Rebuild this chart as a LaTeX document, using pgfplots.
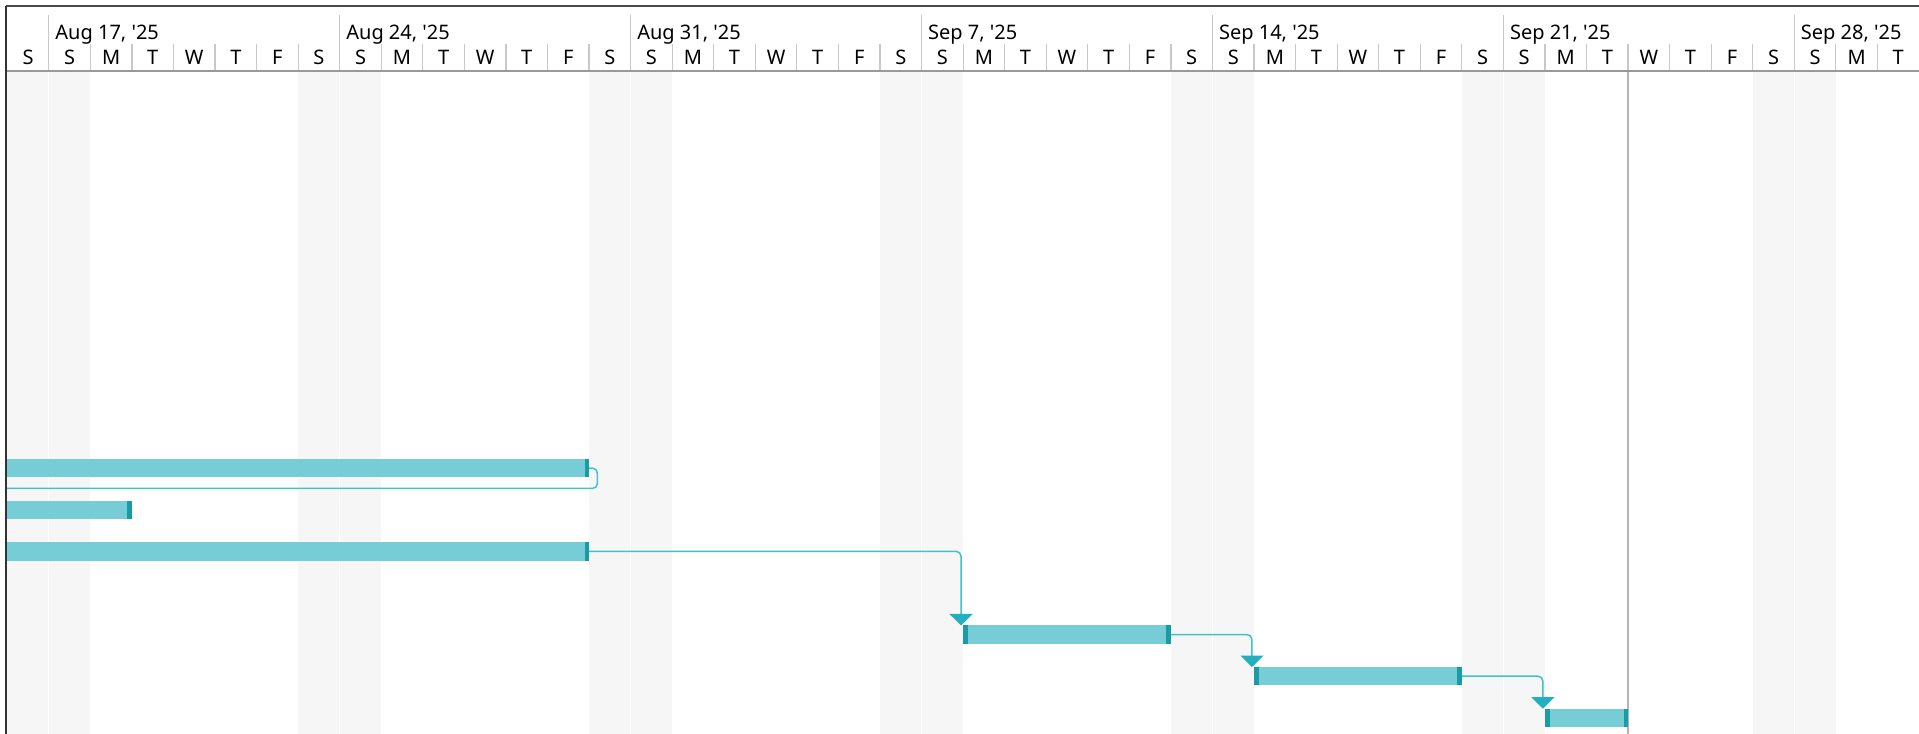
\documentclass[border=0pt]{standalone}
\usepackage{fontspec}
\setmainfont{Noto Sans}
\usepackage{pgfplots}
\pgfplotsset{compat=1.18}
\definecolor{barfill}{HTML}{76CDD6}
\definecolor{barmark}{HTML}{1A9CA6}
\definecolor{arrowc}{HTML}{22B0BE}
\definecolor{linkc}{HTML}{45BFCA}
\definecolor{wkend}{HTML}{F6F6F6}
\definecolor{sepc}{HTML}{C8C8C8}
\definecolor{todayc}{HTML}{B4B4B4}
\begin{document}
\begin{tikzpicture}
\path[use as bounding box] (0pt,0pt) rectangle (959.5pt,367pt);
% ---------------- header ----------------
\begin{axis}[name=hdr, at={(3pt,331.5pt)}, anchor=south west, scale only axis,
  width=956.5pt, height=32.5pt, xmin=-1.03, xmax=45, ymin=6, ymax=71,
  y dir=reverse, hide axis, clip=false]
\pgfplotsinvokeforeach{1,...,44}{\addplot[sepc, line width=0.6pt] coordinates {(#1,44) (#1,71)};}
\pgfplotsinvokeforeach{0,7,...,42}{\addplot[sepc, line width=0.6pt] coordinates {(#1,15) (#1,71)};}
\addplot[draw=none, mark=none, nodes near coords, point meta=explicit symbolic,
  every node near coord/.style={anchor=center, inner sep=0pt, font=\fontsize{10}{12}\selectfont, text=black}]
  table[meta=l, row sep=\\] {
x y l\\
-0.5 57 S\\
0.5 57 S\\ 1.5 57 M\\ 2.5 57 T\\ 3.5 57 W\\ 4.5 57 T\\ 5.5 57 F\\ 6.5 57 S\\
7.5 57 S\\ 8.5 57 M\\ 9.5 57 T\\ 10.5 57 W\\ 11.5 57 T\\ 12.5 57 F\\ 13.5 57 S\\
14.5 57 S\\ 15.5 57 M\\ 16.5 57 T\\ 17.5 57 W\\ 18.5 57 T\\ 19.5 57 F\\ 20.5 57 S\\
21.5 57 S\\ 22.5 57 M\\ 23.5 57 T\\ 24.5 57 W\\ 25.5 57 T\\ 26.5 57 F\\ 27.5 57 S\\
28.5 57 S\\ 29.5 57 M\\ 30.5 57 T\\ 31.5 57 W\\ 32.5 57 T\\ 33.5 57 F\\ 34.5 57 S\\
35.5 57 S\\ 36.5 57 M\\ 37.5 57 T\\ 38.5 57 W\\ 39.5 57 T\\ 40.5 57 F\\ 41.5 57 S\\
42.5 57 S\\ 43.5 57 M\\ 44.5 57 T\\
};
\begin{scope}[every node/.style={anchor=base west, inner sep=0pt, font=\fontsize{10}{12}\selectfont}]
\node at (axis cs:0.15,39.5) {Aug 17, \textquotesingle 25};
\node at (axis cs:7.15,39.5) {Aug 24, \textquotesingle 25};
\node at (axis cs:14.15,39.5) {Aug 31, \textquotesingle 25};
\node at (axis cs:21.15,39.5) {Sep 7, \textquotesingle 25};
\node at (axis cs:28.15,39.5) {Sep 14, \textquotesingle 25};
\node at (axis cs:35.15,39.5) {Sep 21, \textquotesingle 25};
\node at (axis cs:42.15,39.5) {Sep 28, \textquotesingle 25};
\end{scope}
\end{axis}
% ---------------- main chart ----------------
\begin{axis}[name=main, at={(3pt,0pt)}, anchor=south west, scale only axis,
  width=956.5pt, height=331.5pt, xmin=-1.03, xmax=45, ymin=-0.543, ymax=15.39,
  y dir=reverse, hide axis]
% weekend shading (Sat, Sun)
\pgfplotsinvokeforeach{0,7,...,42}{
  \addplot[fill=wkend, draw=none] coordinates {(#1-1,-1) (#1-0.012,-1) (#1-0.012,16) (#1-1,16)} --cycle;
  \addplot[fill=wkend, draw=none] coordinates {(#1+0.012,-1) (#1+1,-1) (#1+1,16) (#1+0.012,16)} --cycle;
}
% today line
\addplot[todayc, line width=1pt] coordinates {(38,-1) (38,16)};
% dependency links
\addplot[linkc, line width=0.75pt, rounded corners=2.5pt] coordinates {(13,9) (13.2,9) (13.2,9.49) (-2,9.49)};
\addplot[linkc, line width=0.75pt, rounded corners=2.5pt] coordinates {(13,11) (21.95,11) (21.95,12.52)};
\addplot[linkc, line width=0.75pt, rounded corners=2.5pt] coordinates {(27,13) (28.95,13) (28.95,13.52)};
\addplot[linkc, line width=0.75pt, rounded corners=2.5pt] coordinates {(34,14) (35.95,14) (35.95,14.52)};
% arrow heads
\addplot[fill=arrowc, draw=none] coordinates {(21.67,12.505) (22.23,12.505) (21.95,12.78)} --cycle;
\addplot[fill=arrowc, draw=none] coordinates {(28.67,13.505) (29.23,13.505) (28.95,13.78)} --cycle;
\addplot[fill=arrowc, draw=none] coordinates {(35.67,14.505) (36.23,14.505) (35.95,14.78)} --cycle;
% task bars (start, end, row)
\addplot[barfill, line width=9.2pt] coordinates {(-2,9) (13,9)};
\addplot[barfill, line width=9.2pt] coordinates {(-2,10) (2,10)};
\addplot[barfill, line width=9.2pt] coordinates {(-2,11) (13,11)};
\addplot[barfill, line width=9.2pt] coordinates {(22,13) (27,13)};
\addplot[barfill, line width=9.2pt] coordinates {(29,14) (34,14)};
\addplot[barfill, line width=9.2pt] coordinates {(36,15) (38,15)};
% bar end markers
\addplot[barmark, line width=9.2pt] coordinates {(12.89,9) (13,9)};
\addplot[barmark, line width=9.2pt] coordinates {(1.89,10) (2,10)};
\addplot[barmark, line width=9.2pt] coordinates {(12.89,11) (13,11)};
\addplot[barmark, line width=9.2pt] coordinates {(22,13) (22.11,13)};
\addplot[barmark, line width=9.2pt] coordinates {(26.89,13) (27,13)};
\addplot[barmark, line width=9.2pt] coordinates {(29,14) (29.11,14)};
\addplot[barmark, line width=9.2pt] coordinates {(33.89,14) (34,14)};
\addplot[barmark, line width=9.2pt] coordinates {(36,15) (36.11,15)};
\addplot[barmark, line width=9.2pt] coordinates {(37.89,15) (38,15)};
\end{axis}
% frame lines
\draw[line width=1pt, black!70] (hdr.north west) -- (hdr.north east);
\draw[line width=0.9pt, black!40] (hdr.south west) -- (hdr.south east);
\draw[line width=1pt, black!80] (hdr.north west) -- (main.south west);
\end{tikzpicture}
\end{document}
